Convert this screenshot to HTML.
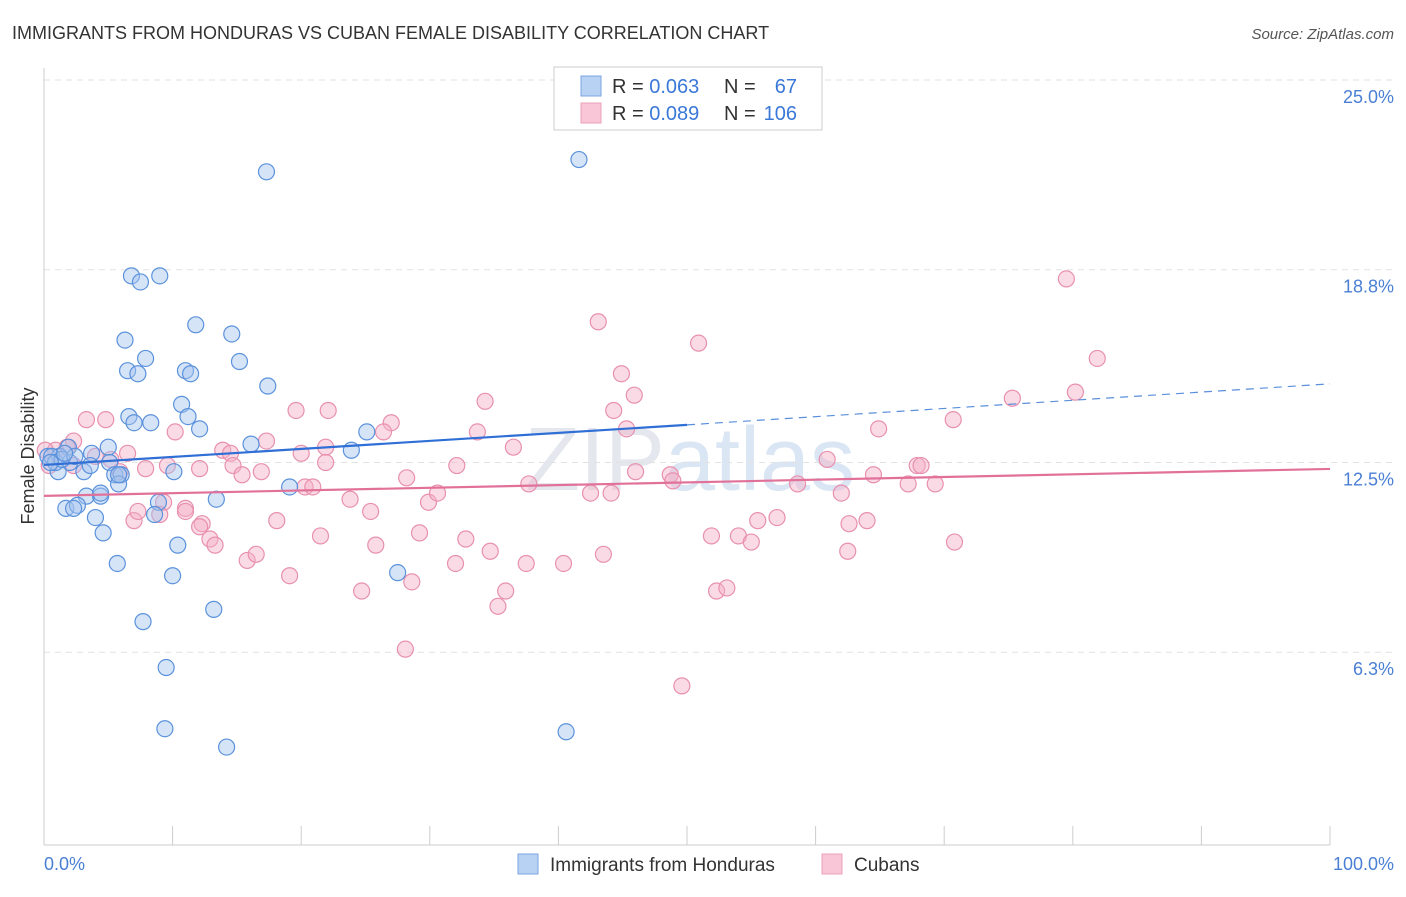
<!DOCTYPE html>
<html><head><meta charset="utf-8">
<style>
body{margin:0;background:#fff;font-family:"Liberation Sans",sans-serif;}
svg text{font-family:"Liberation Sans",sans-serif;}
</style></head>
<body>
<svg id="chart" width="1406" height="892" xmlns="http://www.w3.org/2000/svg">
<text x="12" y="39" font-size="18" fill="#333">IMMIGRANTS FROM HONDURAS VS CUBAN FEMALE DISABILITY CORRELATION CHART</text>
<text x="1394" y="39" font-size="15" fill="#555" text-anchor="end" font-style="italic">Source: ZipAtlas.com</text>
<text x="690" y="490" font-size="90" fill="#e4e8ee" text-anchor="middle" font-family="Liberation Serif">ZIP<tspan fill="#dbe6f4" font-family="Liberation Sans">atlas</tspan></text>
<g id="grid"></g>
<line x1="44" y1="68" x2="44" y2="845" stroke="#ccc"/>
<line x1="44" y1="845" x2="1330" y2="845" stroke="#ccc"/>
<text transform="translate(34,456) rotate(-90)" font-size="18" fill="#333" text-anchor="middle">Female Disability</text>
<text x="44" y="870" font-size="18" fill="#4a7fd4">0.0%</text>
<text x="1394" y="870" font-size="18" fill="#4a7fd4" text-anchor="end">100.0%</text>
<g id="points"></g>
<g id="trends"></g>
<g>
<rect x="554" y="67" width="268" height="63" fill="#fff" stroke="#ccc"/>
<rect x="581" y="76" width="20" height="20" fill="#b8d2f4" stroke="#7aa6e2"/>
<rect x="581" y="103" width="20" height="20" fill="#f8c6d6" stroke="#eaa0b8"/>
<text x="612" y="93" font-size="20" fill="#333">R = <tspan fill="#3a78d8">0.063</tspan></text>
<text x="724" y="93" font-size="20" fill="#333">N =</text>
<text x="797" y="93" font-size="20" fill="#3a78d8" text-anchor="end">67</text>
<text x="612" y="120" font-size="20" fill="#333">R = <tspan fill="#3a78d8">0.089</tspan></text>
<text x="724" y="120" font-size="20" fill="#333">N =</text>
<text x="797" y="120" font-size="20" fill="#3a78d8" text-anchor="end">106</text>
</g>
<g>
<rect x="518" y="854" width="20" height="20" fill="#b8d2f4" stroke="#7aa6e2"/>
<text x="550" y="871" font-size="19" fill="#333">Immigrants from Honduras</text>
<rect x="822" y="854" width="20" height="20" fill="#f8c6d6" stroke="#eaa0b8"/>
<text x="854" y="871" font-size="19" fill="#333">Cubans</text>
</g>
</svg>
<script>
const yTicks=[25.0,18.8,12.5,6.3];
const yTickLabels=["25.0%","18.8%","12.5%","6.3%"];
const blueX=[17.3,41.6,6.8,9.0,7.5,11.8,14.6,6.3,7.9,15.2,6.5,7.3,11.0,11.4,17.4,10.7,6.6,11.2,7.0,8.3,12.1,25.1,16.1,23.9,5.0,3.7,1.9,0.3,1.2,2.0,3.1,1.1,5.1,5.5,6.0,5.8,10.1,19.1,3.3,4.4,1.7,2.6,2.3,8.9,13.4,8.6,4.0,4.6,10.4,5.7,10.0,27.5,13.2,7.7,9.5,9.4,14.2,40.6,0.6,0.9,1.4,2.4,3.6,4.4,5.8,0.5,1.6];
const blueY=[22.0,22.4,18.6,18.6,18.4,17.0,16.7,16.5,15.9,15.8,15.5,15.4,15.5,15.4,15.0,14.4,14.0,14.0,13.8,13.8,13.6,13.5,13.1,12.9,13.0,12.8,13.0,12.7,12.7,12.5,12.2,12.2,12.5,12.1,12.1,11.8,12.2,11.7,11.4,11.4,11.0,11.1,11.0,11.2,11.3,10.8,10.7,10.2,9.8,9.2,8.8,8.9,7.7,7.3,5.8,3.8,3.2,3.7,12.7,12.5,12.6,12.7,12.4,11.5,12.1,12.5,12.8];
const pinkX=[79.5,81.9,43.1,50.9,44.9,80.2,45.9,75.3,44.3,34.3,22.1,19.6,27.0,26.4,33.7,45.3,64.9,70.7,10.2,3.3,4.8,2.3,1.8,0.9,0.1,0.4,2.3,4.0,6.5,5.2,5.9,7.9,9.6,12.1,13.9,14.5,14.7,15.4,16.9,17.3,20.0,21.9,21.9,20.3,20.9,23.8,28.2,32.1,36.5,37.7,42.5,44.1,46.0,48.7,48.9,60.9,64.5,67.9,68.2,67.2,69.3,58.6,62.0,29.9,30.6,25.4,18.1,7.0,7.3,9.3,9.0,11.0,12.3,12.1,12.9,13.3,15.8,16.5,21.5,25.8,29.2,32.8,34.7,32.0,37.5,40.4,43.5,51.9,54.0,55.0,55.5,57.0,62.6,64.0,62.5,70.8,19.1,28.6,24.7,35.9,35.3,52.3,53.1,28.1,49.6,11.0];
const pinkY=[18.5,15.9,17.1,16.4,15.4,14.8,14.7,14.6,14.2,14.5,14.2,14.2,13.8,13.5,13.5,13.6,13.6,13.9,13.5,13.9,13.9,13.2,13.0,12.9,12.9,12.4,12.4,12.7,12.8,12.6,12.2,12.3,12.4,12.3,12.9,12.8,12.4,12.1,12.2,13.2,12.8,13.0,12.5,11.7,11.7,11.3,12.0,12.4,13.0,11.8,11.5,11.5,12.2,12.1,11.9,12.6,12.1,12.4,12.4,11.8,11.8,11.8,11.5,11.2,11.5,10.9,10.6,10.6,10.9,11.2,10.8,11.0,10.5,10.4,10.0,9.8,9.3,9.5,10.1,9.8,10.2,10.0,9.6,9.2,9.2,9.2,9.5,10.1,10.1,9.9,10.6,10.7,10.5,10.6,9.6,9.9,8.8,8.6,8.3,8.3,7.8,8.3,8.4,6.4,5.2,10.9];
const blueTrend=[[0,12.42],[50,13.73]];
const blueDash=[[50,13.73],[100,15.07]];
const pinkTrend=[[0,11.41],[100,12.29]];
const X=v=>44+v*12.86, Y=v=>80+(25-v)*30.6;
const NS="http://www.w3.org/2000/svg";
const grid=document.getElementById('grid');
yTicks.forEach((t,i)=>{
 const l=document.createElementNS(NS,'line');
 
 
 l.setAttribute('x1',44);l.setAttribute('x2',1394);l.setAttribute('y1',Y(t));l.setAttribute('y2',Y(t));
 l.setAttribute('stroke','#e2e2e2');l.setAttribute('stroke-dasharray','6,5');
 grid.appendChild(l);
 const tx=document.createElementNS(NS,'text');
 
 
 tx.setAttribute('x',1394);tx.setAttribute('y',Y(t)+23);tx.setAttribute('text-anchor','end');
 tx.setAttribute('font-size','18');tx.setAttribute('fill','#4a7fd4');tx.textContent=yTickLabels[i];
 grid.appendChild(tx);
});
for(let i=0;i<=10;i++){
 const l=document.createElementNS(NS,'line');
 
 
 l.setAttribute('x1',X(i*10));l.setAttribute('x2',X(i*10));l.setAttribute('y1',826);l.setAttribute('y2',845);
 l.setAttribute('stroke','#ccc');grid.appendChild(l);
}
const pts=document.getElementById('points');
function dots(xs,ys,fill,stroke,name){
 xs.forEach((x,i)=>{
  const c=document.createElementNS(NS,'circle');
  
  
  c.setAttribute('cx',X(x));c.setAttribute('cy',Y(ys[i]));c.setAttribute('r',8);
  c.setAttribute('fill',fill);c.setAttribute('fill-opacity','0.45');c.setAttribute('stroke',stroke);c.setAttribute('stroke-width','1.2');
  pts.appendChild(c);
 });
}
dots(pinkX,pinkY,'#f4b0c6','#e890ae','cuban-point');
dots(blueX,blueY,'#a4c4ee','#5b92dc','honduras-point');
const tr=document.getElementById('trends');
function line(p,color,dash,name){
 const l=document.createElementNS(NS,'line');
 
 
 l.setAttribute('x1',X(p[0][0]));l.setAttribute('y1',Y(p[0][1]));l.setAttribute('x2',X(p[1][0]));l.setAttribute('y2',Y(p[1][1]));
 l.setAttribute('stroke',color);l.setAttribute('stroke-width',dash?1.2:2.2);
 if(dash)l.setAttribute('stroke-dasharray','8,6');
 tr.appendChild(l);
}
line(blueTrend,'#2f6fd6',false,'honduras-trend-line');
line(blueDash,'#5a8fdc',true,'honduras-trend-extension');
line(pinkTrend,'#e2719a',false,'cuban-trend-line');
</script>
</body></html>
